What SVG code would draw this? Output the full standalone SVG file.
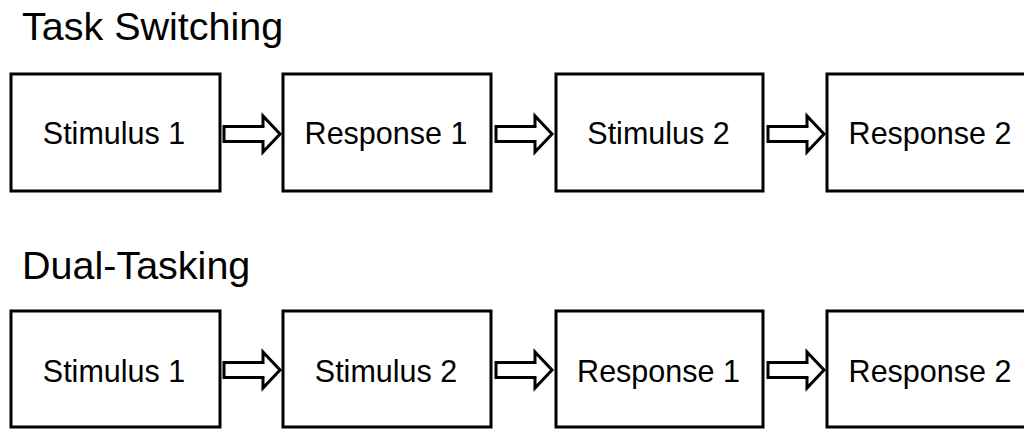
<svg xmlns="http://www.w3.org/2000/svg" xmlns:xlink="http://www.w3.org/1999/xlink" width="1024" height="429" viewBox="0 0 1024 429">
<style>
.box{fill:#fff;stroke:#000;stroke-width:3}
.lbl{font-family:"Liberation Sans",Arial,sans-serif;font-size:30.5px;fill:#000;text-anchor:middle}
.title{font-family:"Liberation Sans",Arial,sans-serif;font-size:39.5px;fill:#000}
.arr{fill:#fff;stroke:#000;stroke-width:3;stroke-linejoin:miter}
</style>
<defs>
<path id="blockArrow" class="arr" d="M0,-7.5 H39 V-18 L56,0 L39,18 V7.5 H0 Z"/>
</defs>
<rect width="1024" height="429" fill="#fff"/>
<text class="title" x="22" y="40">Task Switching</text>
<text class="title" x="22" y="279">Dual-Tasking</text>
<g id="ts-stim1"><rect class="box" x="11" y="74" width="209" height="117"/><text class="lbl" x="114" y="144">Stimulus 1</text></g>
<g id="ts-resp1"><rect class="box" x="283" y="74" width="208" height="117"/><text class="lbl" x="386" y="144">Response 1</text></g>
<g id="ts-stim2"><rect class="box" x="556" y="74" width="207" height="117"/><text class="lbl" x="658.5" y="144">Stimulus 2</text></g>
<g id="ts-resp2"><rect class="box" x="827" y="74" width="210" height="117"/><text class="lbl" x="930" y="144">Response 2</text></g>
<g id="dt-stim1"><rect class="box" x="11" y="311" width="209" height="116"/><text class="lbl" x="114" y="382">Stimulus 1</text></g>
<g id="dt-stim2"><rect class="box" x="283" y="311" width="208" height="116"/><text class="lbl" x="386" y="382">Stimulus 2</text></g>
<g id="dt-resp1"><rect class="box" x="556" y="311" width="207" height="116"/><text class="lbl" x="658.5" y="382">Response 1</text></g>
<g id="dt-resp2"><rect class="box" x="827" y="311" width="210" height="116"/><text class="lbl" x="930" y="382">Response 2</text></g>
<g id="connectors">
<use xlink:href="#blockArrow" x="224" y="134"/>
<use xlink:href="#blockArrow" x="496" y="134"/>
<use xlink:href="#blockArrow" x="768" y="134"/>
<use xlink:href="#blockArrow" x="224" y="370"/>
<use xlink:href="#blockArrow" x="496" y="370"/>
<use xlink:href="#blockArrow" x="768" y="370"/>
</g>
</svg>
